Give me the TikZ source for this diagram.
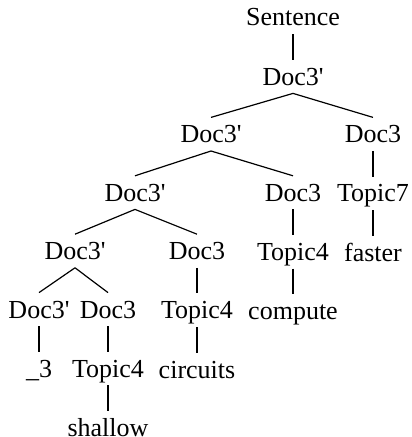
\documentclass[tikz,border=0pt]{standalone}
\usepackage{fontspec}
\setmainfont{Liberation Serif}
\usetikzlibrary{positioning}
\newcommand{\pr}{\textquotesingle}

\begin{document}
\begin{tikzpicture}[x=0.5pt, y=-0.5pt,
  font=\fontsize{13}{15}\selectfont, node distance=12.8pt,
  w/.style={inner xsep=1pt, inner ysep=3.9pt, text height=8.6pt, text depth=0pt},
  leaf/.style={w, inner ysep=0pt, text height=12.5pt},
  ln/.style={line width=0.6pt}]
\useasboundingbox (0,0) rectangle (411,437);
\node[w] (a0) at (293,17.4) {Sentence};
\node[w, below=of a0] (b0) {Doc3\pr};
\node[w] (c0) at (211,134.2) {Doc3\pr};
\node[w] (c1) at (373,134.2) {Doc3};
\node[w] (d0) at (135,192.6) {Doc3\pr};
\node[w] (d1) at (293,192.6) {Doc3};
\node[w, below=of c1] (d2) {Topic7};
\node[w] (e0) at (75,251) {Doc3\pr};
\node[w] (e1) at (197,251) {Doc3};
\node[w, below=of d1] (e2) {Topic4};
\node[w, below=of d2] (e3) {faster};
\node[w] (f0) at (39,309.4) {Doc3\pr};
\node[w] (f1) at (108,309.4) {Doc3};
\node[w, below=of e1] (f2) {Topic4};
\node[w, below=of e2] (f3) {compute};
\node[w, below=of f0] (g0) {\_3};
\node[w, below=of f1] (g1) {Topic4};
\node[w, below=of f2] (g2) {circuits};
\node[leaf, below=of g1] (h0) {shallow};
\foreach \a/\b in {a0/b0,b0/c0,b0/c1,c0/d0,c0/d1,c1/d2,d0/e0,d0/e1,d1/e2,d2/e3,
  e0/f0,e0/f1,e1/f2,e2/f3,f0/g0,f1/g1,f2/g2,g1/h0} \draw[ln] (\a.south)--(\b.north);
\end{tikzpicture}
\end{document}
